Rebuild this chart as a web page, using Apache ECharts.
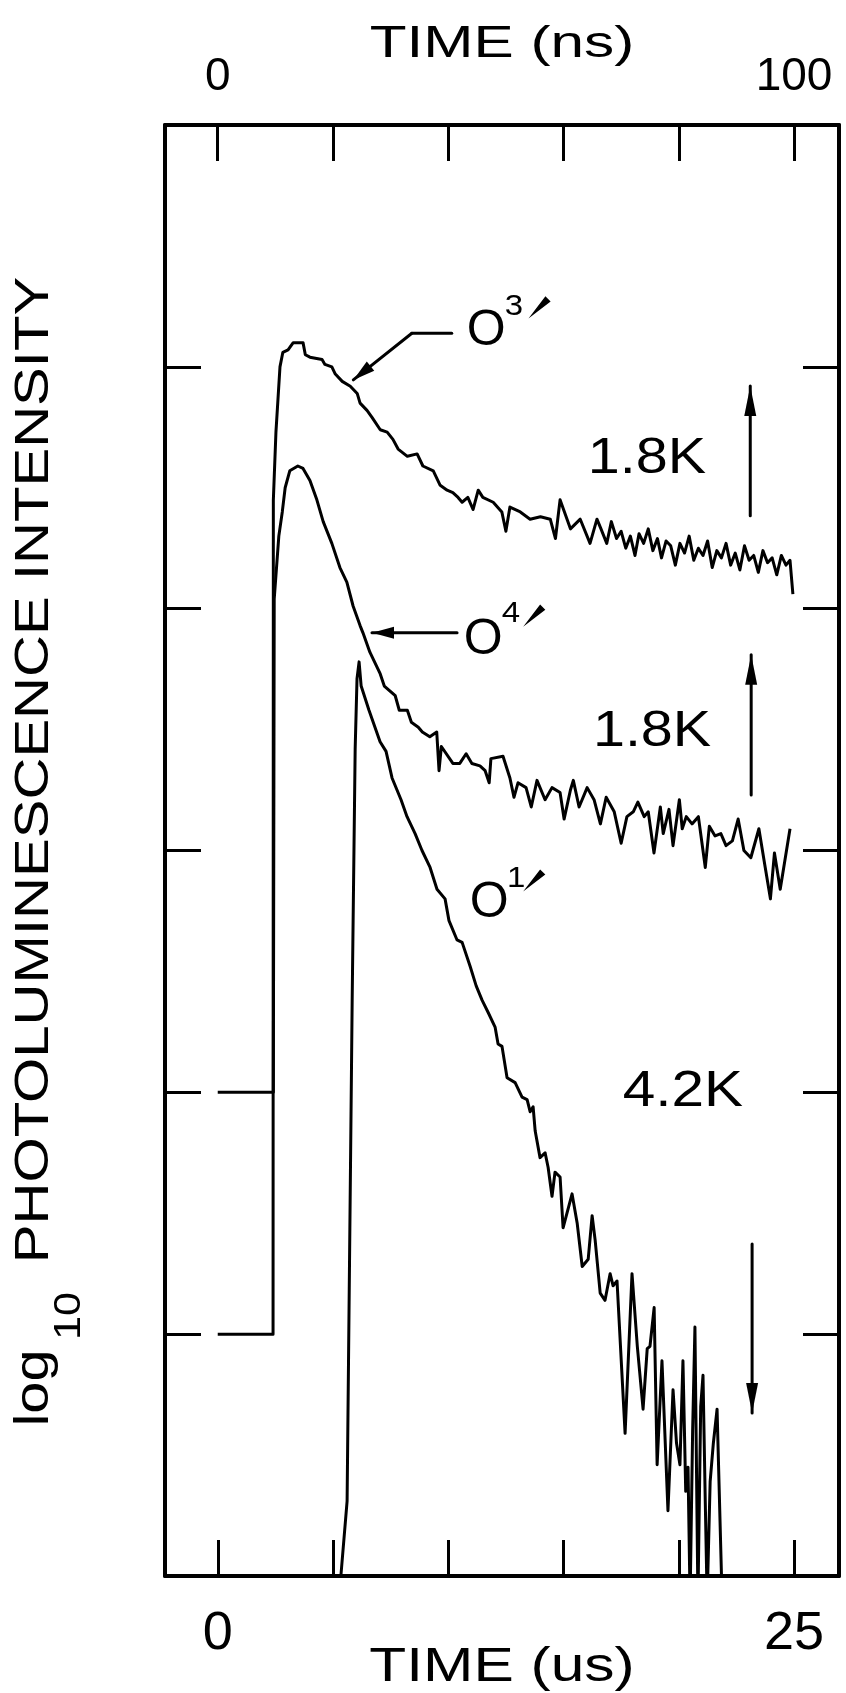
<!DOCTYPE html>
<html>
<head>
<meta charset="utf-8">
<script src="https://cdn.jsdelivr.net/npm/echarts@6/dist/echarts.min.js"></script>
<style>
  html, body { margin: 0; padding: 0; background: #fff; }
  #chart { width: 846px; height: 1693px; }
</style>
</head>
<body>
<div id="chart"></div>
<script>
// Axis ticks and labels
const usTicks = [0, 5, 10, 15, 20, 25];
const usTickLabels = [0, 25];
const nsTicks = [0, 20, 40, 60, 80, 100];
const nsTickLabels = [0, 100];
const decadeTicks = [1, 2, 3, 4, 5];

// O3' decay at 1.8 K (time in ns, log10 intensity in decades)
const o3Time = [0, 9.6, 9.65, 10.1, 10.8, 11.3, 12.2, 13.1, 14.8, 15.2, 16.0, 18.1, 18.6, 19.8, 20.4, 21.6, 23.0, 24.2, 24.7,
  25.9, 26.8, 28.2, 29.4, 30.4, 31.3, 32.9, 34.6, 35.6, 37.4, 38.6, 39.8, 40.8, 41.7, 42.4, 43.4, 44.3, 45.2, 46.0,
  47.8, 49.3, 50.0, 50.7, 52.5, 54.2, 56.0, 57.7, 58.6, 59.4, 61.2, 62.9, 64.6, 65.8,
  66.5, 67.5, 68.3, 69.2, 70.0, 70.8, 71.6, 72.4, 73.1, 73.9, 74.7, 75.5, 76.3, 77.0, 77.8, 78.6, 79.4, 80.2,
  81.0, 81.8, 82.6, 83.4, 84.2, 85.0, 85.8, 86.6, 87.4, 88.2, 89.0, 89.8, 90.6, 91.4, 92.2, 93.0, 93.8, 94.6,
  95.4, 96.2, 97.0, 97.8, 98.6, 99.3, 99.8];
const o3Log = [1.0, 1.0, 4.45, 4.73, 5.0, 5.06, 5.07, 5.1, 5.1, 5.05, 5.04, 5.03, 5.01, 5.0, 4.97, 4.94, 4.92, 4.89, 4.85,
  4.82, 4.79, 4.74, 4.73, 4.7, 4.66, 4.63, 4.64, 4.59, 4.57, 4.51, 4.49, 4.48, 4.46, 4.44, 4.46, 4.41, 4.49, 4.46,
  4.44, 4.4, 4.32, 4.42, 4.4, 4.37, 4.38, 4.37, 4.29, 4.45, 4.33, 4.37, 4.27, 4.37,
  4.33, 4.27, 4.36, 4.29, 4.32, 4.25, 4.30, 4.22, 4.31, 4.27, 4.33, 4.24, 4.29, 4.21, 4.28, 4.26, 4.18, 4.27,
  4.23, 4.30, 4.20, 4.25, 4.22, 4.28, 4.17, 4.24, 4.21, 4.27, 4.18, 4.23, 4.16, 4.26, 4.20, 4.22, 4.15, 4.24,
  4.19, 4.21, 4.14, 4.22, 4.18, 4.20, 4.06];

// O4' decay at 1.8 K (time in ns)
const o4Time = [0, 9.65, 9.8, 10.6, 11.2, 11.7, 12.5, 13.9, 14.8, 16.0, 17.2, 18.3, 19.8, 21.2, 22.4, 23.5, 24.7, 25.2,
  26.4, 28.2, 28.9, 30.8, 31.5, 32.9, 33.6, 34.8, 35.5, 36.8, 38.0, 38.4, 38.8, 40.8, 42.0, 43.1, 44.1, 45.5, 46.4,
  47.1, 47.4, 49.5, 50.7, 51.4, 52.1, 53.5, 54.4, 55.4, 56.8, 58.0, 59.4, 60.1, 61.2, 61.7, 62.7, 64.1, 65.3, 66.4,
  67.4, 68.8, 70.0, 71.0, 72.1, 72.9, 74.0, 74.7, 75.7, 76.8, 77.3, 78.3, 79.0, 80.1, 80.6, 81.3, 82.3, 83.4, 84.6,
  85.3, 86.3, 87.3, 88.2, 89.3, 90.3, 91.3, 92.5, 93.9, 95.0, 95.9, 96.6, 97.6, 99.3];
const o4Log = [2.0, 2.0, 4.04, 4.3, 4.4, 4.5, 4.57, 4.59, 4.58, 4.53, 4.45, 4.36, 4.27, 4.17, 4.11, 4.01, 3.93, 3.9,
  3.82, 3.73, 3.68, 3.64, 3.58, 3.58, 3.53, 3.51, 3.49, 3.47, 3.49, 3.33, 3.43, 3.36, 3.36, 3.4, 3.36, 3.35, 3.33,
  3.28, 3.38, 3.39, 3.3, 3.22, 3.28, 3.26, 3.18, 3.29, 3.21, 3.26, 3.24, 3.13, 3.25, 3.29, 3.18, 3.26, 3.21, 3.11,
  3.22, 3.16, 3.03, 3.14, 3.16, 3.2, 3.14, 3.16, 2.99, 3.18, 3.07, 3.17, 3.02, 3.21, 3.09, 3.14, 3.11, 3.14, 2.93,
  3.1, 3.06, 3.07, 3.02, 3.04, 3.13, 3.0, 2.97, 3.09, 2.93, 2.8, 2.99, 2.84, 3.09];

// O1' decay at 4.2 K (time in us)
const o1Time = [5.28, 5.34, 5.61, 5.83, 5.96, 6.04, 6.13, 6.22, 6.56, 7.04, 7.3, 7.56, 7.95, 8.21, 8.56, 8.86, 9.21,
  9.51, 9.86, 10.03, 10.38, 10.6, 10.95, 11.21, 11.47, 11.73, 12.03, 12.16, 12.33, 12.55, 12.9, 13.2, 13.42, 13.55,
  13.68, 13.77, 13.98, 14.2, 14.33, 14.5, 14.63, 14.85, 14.98, 15.37, 15.59, 15.81, 16.07, 16.24, 16.37, 16.59, 16.8,
  17.02, 17.15, 17.32, 17.67, 17.97, 18.2, 18.45, 18.63, 18.75, 18.93, 19.06, 19.27, 19.53, 19.75, 19.9, 20.05, 20.18,
  20.3, 20.4, 20.49, 20.6, 20.7, 20.83, 20.95, 21.05, 21.15, 21.23, 21.36, 21.5, 21.66, 21.88];
const o1Log = [-0.1, 0.0, 0.31, 2.38, 3.42, 3.71, 3.78, 3.68, 3.58, 3.45, 3.41, 3.3, 3.21, 3.14, 3.07, 3.0, 2.93,
  2.84, 2.8, 2.71, 2.63, 2.62, 2.52, 2.44, 2.38, 2.33, 2.27, 2.2, 2.19, 2.06, 2.04, 1.98, 1.97, 1.92,
  1.94, 1.84, 1.73, 1.75, 1.69, 1.57, 1.67, 1.65, 1.44, 1.58, 1.46, 1.28, 1.31, 1.49, 1.39, 1.17, 1.14,
  1.25, 1.2, 1.22, 0.59, 1.25, 0.95, 0.69, 0.94, 0.95, 1.11, 0.46, 0.89, 0.27, 0.77, 0.55, 0.46, 0.89,
  0.35, 0.45, -0.1, 0.6, 1.03, -0.1, 0.7, 0.83, 0.3, -0.1, 0.39, 0.55, 0.69, -0.1];

const pairs = (xs, ys) => xs.map((x, i) => [x, ys[i]]);

const FONT = 'Liberation Sans, Arial, Helvetica, sans-serif';
const INK = '#000';

const chart = echarts.init(document.getElementById('chart'), null, { renderer: 'canvas' });

function xAxisDef(pos, min, max, ticks, labels, margin, size) {
  return {
    type: 'value', position: pos, min: min, max: max,
    axisLine: { show: true, onZero: false, lineStyle: { color: INK, width: 4 } },
    axisTick: { show: true, inside: true, length: 36, customValues: ticks, lineStyle: { color: INK, width: 3 } },
    axisLabel: { show: true, customValues: labels, margin: margin, color: INK, fontFamily: FONT, fontSize: size },
    splitLine: { show: false }
  };
}
function yAxisDef(pos) {
  return {
    type: 'value', position: pos, min: 0, max: 6, interval: 1,
    axisLine: { show: true, onZero: false, lineStyle: { color: INK, width: 4 } },
    axisTick: { show: true, inside: true, length: 36, customValues: decadeTicks, lineStyle: { color: INK, width: 3 } },
    axisLabel: { show: false },
    splitLine: { show: false }
  };
}
function trace(name, xIndex, data) {
  return {
    name: name, type: 'line', xAxisIndex: xIndex, yAxisIndex: 0, data: data,
    showSymbol: false, symbol: 'none', clip: true, smooth: false,
    lineStyle: { color: INK, width: 3, join: 'round' }, z: 3
  };
}

chart.setOption({
  animation: false,
  backgroundColor: '#fff',
  grid: { left: 165, right: 7, top: 125, bottom: 117, containLabel: false },
  xAxis: [
    xAxisDef('bottom', -2.29, 26.95, usTicks, usTickLabels, 31, 54),
    xAxisDef('top', -9.15, 107.8, nsTicks, nsTickLabels, 25, 46)
  ],
  yAxis: [yAxisDef('left'), yAxisDef('right')],
  series: [
    trace("O3'", 1, pairs(o3Time, o3Log)),
    trace("O4'", 1, pairs(o4Time, o4Log)),
    trace("O1'", 0, pairs(o1Time, o1Log))
  ]
});

// Annotations, placed in axis units (us, decades) and converted to pixels
const P = (x, y) => chart.convertToPixel({ xAxisIndex: 0, yAxisIndex: 0 }, [x, y]);

function txt(str, at, size, opts) {
  opts = opts || {};
  return {
    type: 'text', x: at[0], y: at[1], rotation: opts.rotation || 0,
    scaleX: opts.scaleX || 1, z: 10,
    style: { text: str, fill: INK, font: (opts.weight || 'normal') + ' ' + size + 'px ' + (opts.family || FONT),
      textAlign: 'center', textVerticalAlign: 'middle' }
  };
}
function seg(a, b, w) {
  return { type: 'line', z: 9, shape: { x1: a[0], y1: a[1], x2: b[0], y2: b[1] },
    style: { stroke: INK, lineWidth: w || 3, lineCap: 'round' } };
}
function head(tail, tip, len, half) {
  const dx = tip[0] - tail[0], dy = tip[1] - tail[1];
  const L = Math.hypot(dx, dy), ux = dx / L, uy = dy / L;
  const bx = tip[0] - ux * len, by = tip[1] - uy * len;
  return { type: 'polygon', z: 9, shape: { points: [tip, [bx - uy * half, by + ux * half], [bx + uy * half, by - ux * half]] },
    style: { fill: INK } };
}
function arrow(fromXY, toXY, len, half) {
  const a = P(fromXY[0], fromXY[1]), b = P(toXY[0], toXY[1]);
  return [seg(a, b, 3), head(a, b, len, half)];
}
// prime mark drawn as a slanted wedge, like the plotter's
function wedge(at) {
  const c = P(at[0], at[1]);
  return { type: 'polygon', z: 9, shape: { points: [[c[0] - 8, c[1] + 8], [c[0] + 5, c[1] - 9], [c[0] + 9, c[1] - 5]] },
    style: { fill: INK, stroke: INK, lineWidth: 1.5 } };
}

const g = [];
// curve labels
g.push(txt('O', P(11.64, 5.149), 50));
g.push(txt('3', P(12.85, 5.25), 30, { scaleX: 1.1 }));
g.push(wedge([14.0, 5.25]));
g.push(seg(P(10.15, 5.139), P(8.42, 5.139), 3));
g.push(...arrow([8.42, 5.139], [5.88, 4.946], 22, 6));

g.push(txt('O', P(11.51, 3.871), 50));
g.push(txt('4', P(12.72, 3.98), 30, { scaleX: 1.1 }));
g.push(wedge([13.77, 3.975]));
g.push(...arrow([10.38, 3.9], [6.69, 3.9], 22, 6));

g.push(txt('O', P(11.77, 2.783), 50));
g.push(txt('1', P(12.94, 2.885), 30, { scaleX: 1.1 }));
g.push(wedge([13.77, 2.88]));

// temperatures and offset arrows
g.push(txt('1.8K', P(18.62, 4.619), 50, { scaleX: 1.15 }));
g.push(txt('1.8K', P(18.84, 3.49), 50, { scaleX: 1.15 }));
g.push(txt('4.2K', P(20.18, 2.002), 50, { scaleX: 1.17 }));
g.push(...arrow([23.1, 4.384], [23.1, 4.921], 30, 6));
g.push(...arrow([23.14, 3.23], [23.14, 3.809], 30, 6));
g.push(...arrow([23.18, 1.373], [23.18, 0.674], 30, 6));

// axis titles
g.push(txt('TIME (ns)', [502, 45], 44, { scaleX: 1.37 }));
g.push(txt('TIME (us)', [502, 1668], 48, { scaleX: 1.26 }));
g.push(txt('log', [35, 1388], 48, { rotation: Math.PI / 2, scaleX: 1.2 }));
g.push(txt('10', [70, 1316], 36, { rotation: Math.PI / 2, scaleX: 1.2 }));
g.push(txt('PHOTOLUMINESCENCE INTENSITY', [35, 770], 48, { rotation: Math.PI / 2, scaleX: 1.21 }));

chart.setOption({ graphic: { elements: g } });
</script>
</body>
</html>
